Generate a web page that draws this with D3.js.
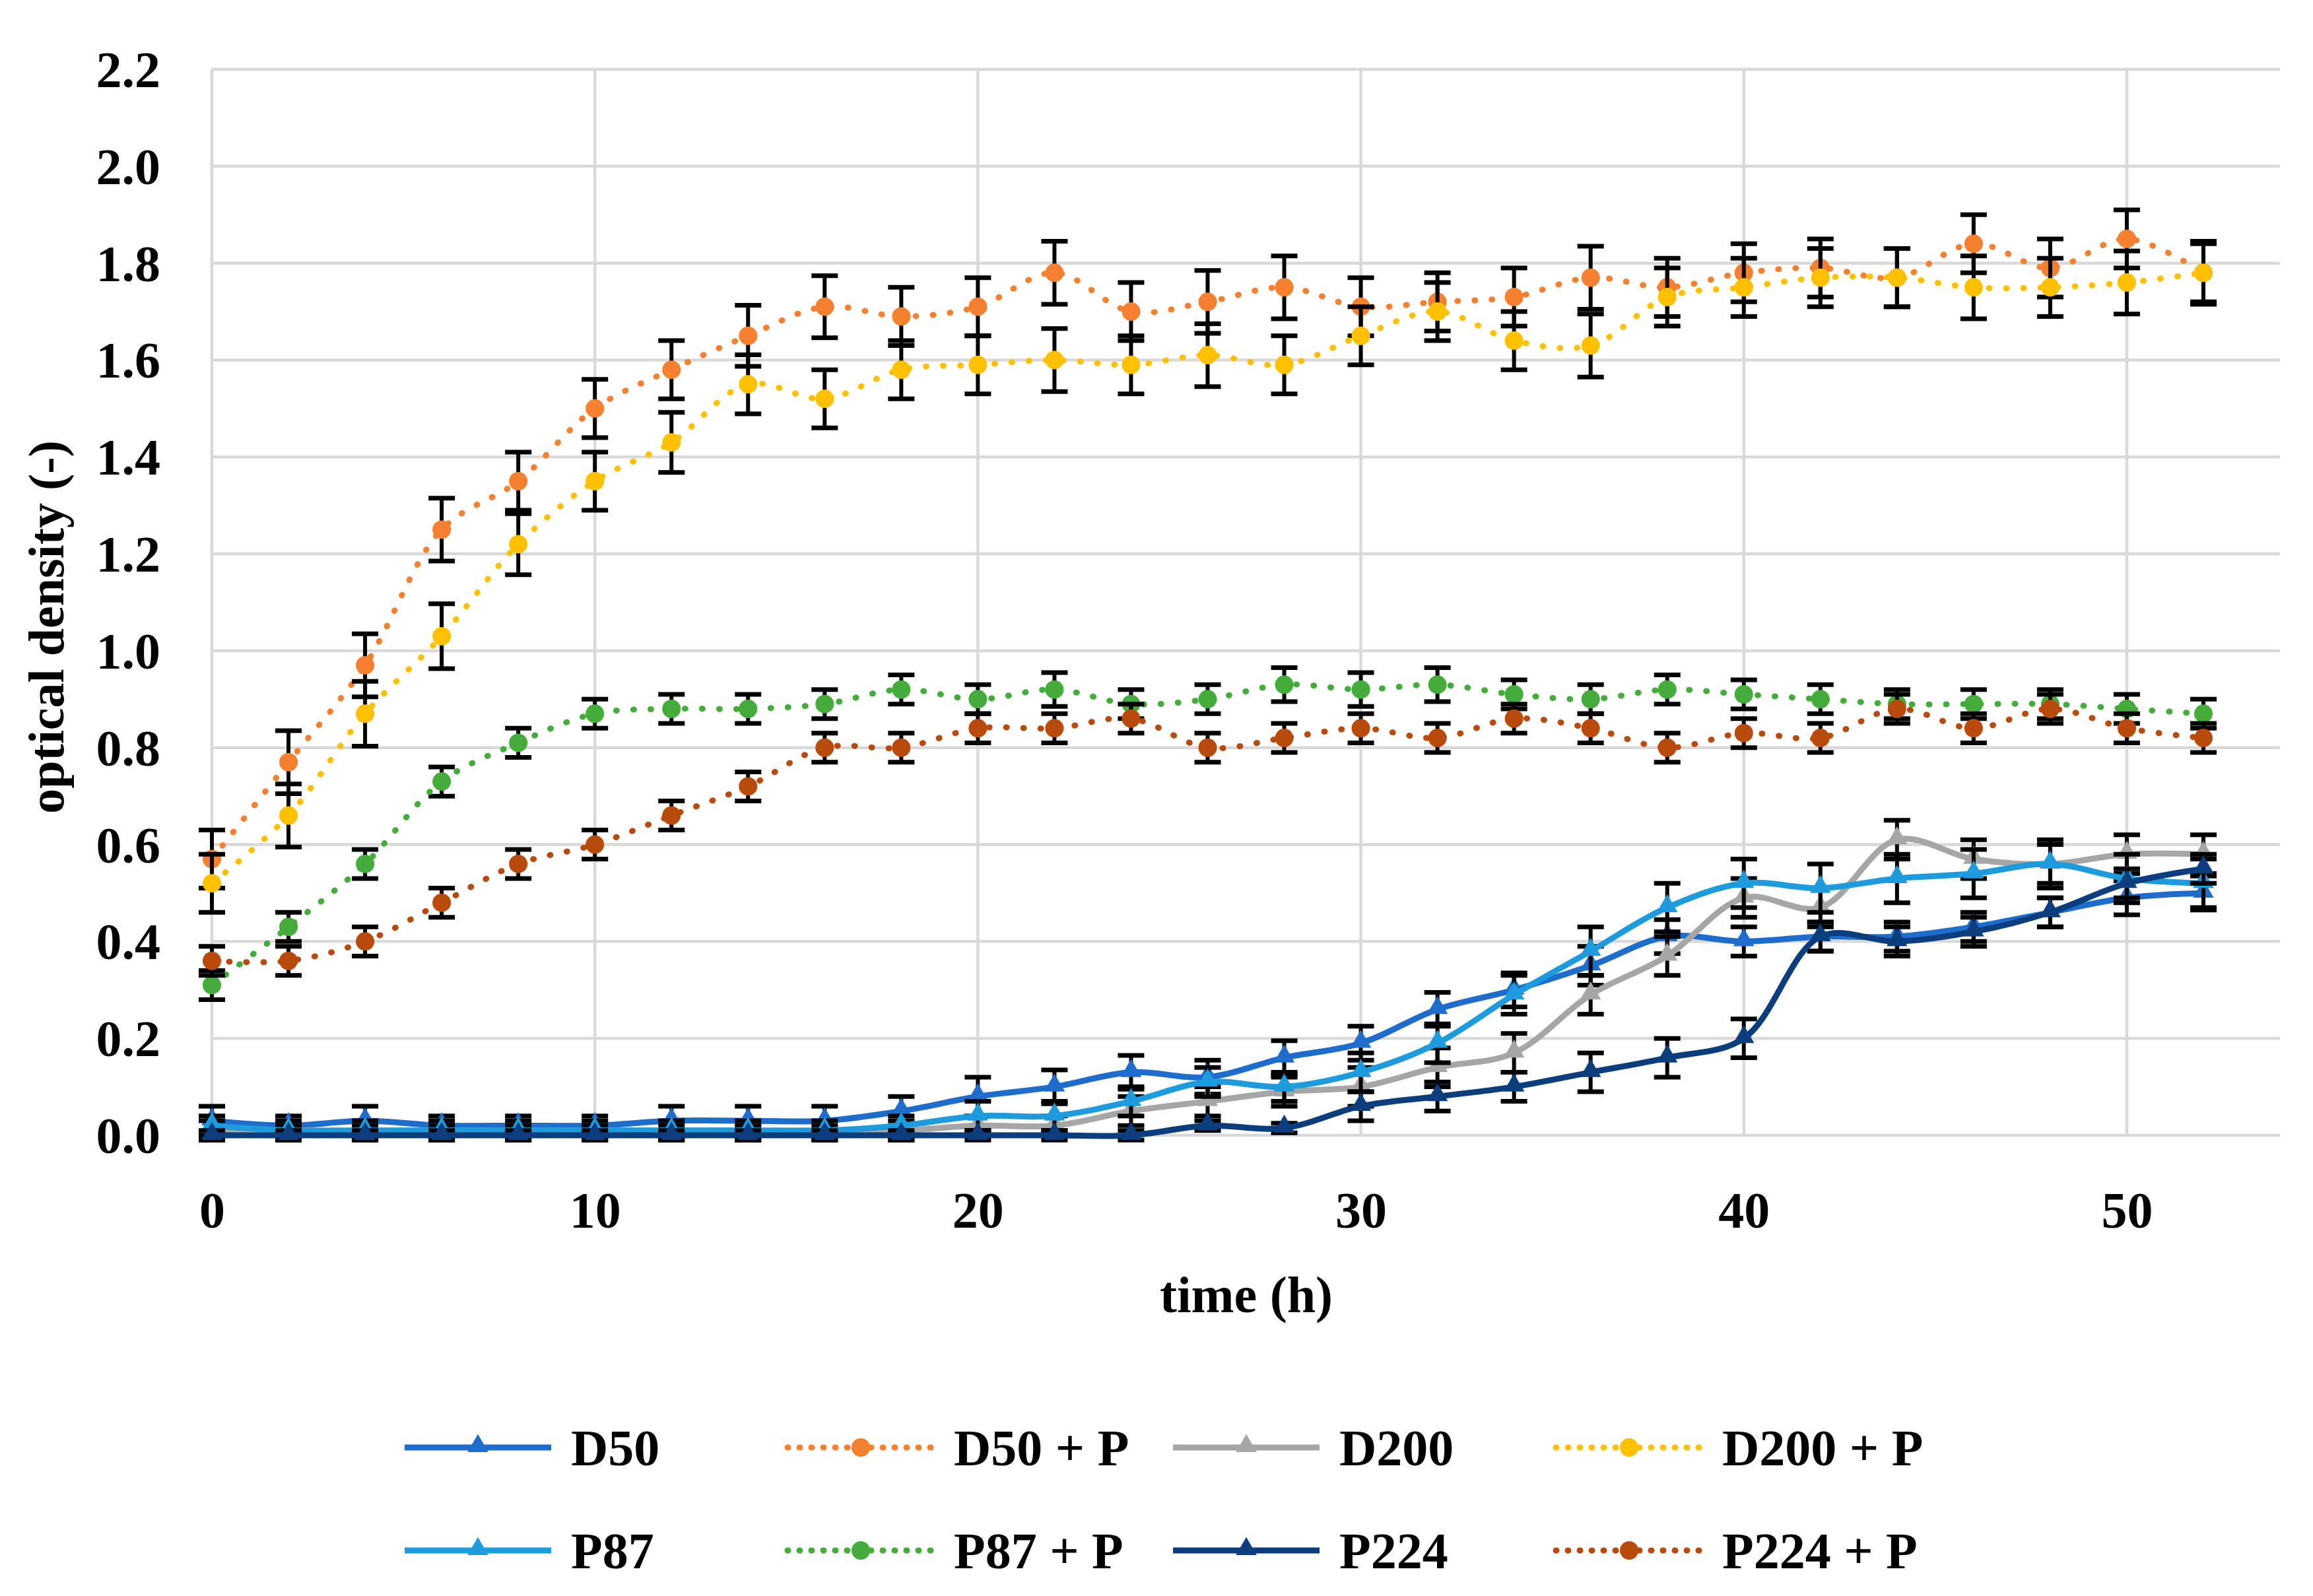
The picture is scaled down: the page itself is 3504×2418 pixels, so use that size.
<!DOCTYPE html>
<html>
<head>
<meta charset="utf-8">
<script src="https://cdn.jsdelivr.net/npm/d3@7"></script>
<style>
  html, body { margin: 0; padding: 0; background: #ffffff; }
  svg { display: block; }
  text { font-family: "Liberation Serif", "DejaVu Serif", serif; font-weight: bold; fill: #000; }
</style>
</head>
<body>
<svg id="chart" width="3504" height="2418"></svg>
<script>
// ---------- data ----------
const time = [0,2,4,6,8,10,12,14,16,18,20,22,24,26,28,30,32,34,36,38,40,42,44,46,48,50,52];

const seriesNames = ["D50", "D50 + P", "D200", "D200 + P", "P87", "P87 + P", "P224", "P224 + P"];

const D50      = [0.03,0.02,0.03,0.02,0.02,0.02,0.03,0.03,0.03,0.05,0.08,0.10,0.13,0.12,0.16,0.19,0.26,0.30,0.35,0.41,0.40,0.41,0.41,0.43,0.46,0.49,0.50];
const D50_err  = [0.03,0.02,0.03,0.02,0.02,0.02,0.03,0.03,0.03,0.03,0.04,0.035,0.035,0.035,0.035,0.035,0.035,0.035,0.04,0.035,0.03,0.03,0.03,0.03,0.03,0.035,0.035];

const D50P     = [0.57,0.77,0.97,1.25,1.35,1.50,1.58,1.65,1.71,1.69,1.71,1.78,1.70,1.72,1.75,1.71,1.72,1.73,1.77,1.75,1.78,1.79,1.77,1.84,1.79,1.85,1.78];
const D50P_err = [0.06,0.065,0.065,0.065,0.06,0.06,0.06,0.063,0.064,0.06,0.06,0.065,0.06,0.065,0.065,0.06,0.06,0.06,0.065,0.06,0.06,0.06,0.06,0.06,0.06,0.06,0.06];

const D200     = [0.01,0.01,0.01,0.01,0.01,0.01,0.01,0.01,0.01,0.01,0.02,0.02,0.05,0.07,0.09,0.10,0.14,0.17,0.29,0.37,0.49,0.47,0.61,0.57,0.56,0.58,0.58];
const D200_err = [0.02,0.02,0.02,0.02,0.02,0.02,0.02,0.02,0.02,0.02,0.02,0.02,0.03,0.03,0.03,0.04,0.04,0.04,0.04,0.04,0.04,0.04,0.04,0.04,0.04,0.04,0.04];

const D200P     = [0.52,0.66,0.87,1.03,1.22,1.35,1.43,1.55,1.52,1.58,1.59,1.60,1.59,1.61,1.59,1.65,1.70,1.64,1.63,1.73,1.75,1.77,1.77,1.75,1.75,1.76,1.78];
const D200P_err = [0.06,0.065,0.067,0.067,0.063,0.06,0.062,0.061,0.06,0.06,0.06,0.065,0.06,0.065,0.06,0.06,0.06,0.06,0.065,0.06,0.06,0.06,0.06,0.065,0.06,0.065,0.065];

const P87      = [0.02,0.01,0.01,0.01,0.01,0.01,0.01,0.01,0.01,0.02,0.04,0.04,0.07,0.11,0.10,0.13,0.19,0.29,0.38,0.47,0.52,0.51,0.53,0.54,0.56,0.53,0.52];
const P87_err  = [0.02,0.01,0.01,0.01,0.01,0.01,0.01,0.01,0.01,0.02,0.03,0.03,0.03,0.03,0.03,0.04,0.04,0.04,0.05,0.05,0.05,0.05,0.05,0.05,0.05,0.05,0.05];

const P87P     = [0.31,0.43,0.56,0.73,0.81,0.87,0.88,0.88,0.89,0.92,0.90,0.92,0.89,0.90,0.93,0.92,0.93,0.91,0.90,0.92,0.91,0.90,0.89,0.89,0.89,0.88,0.87];
const P87P_err = [0.03,0.03,0.03,0.03,0.03,0.03,0.03,0.03,0.03,0.03,0.03,0.035,0.03,0.03,0.035,0.035,0.035,0.03,0.03,0.03,0.03,0.03,0.03,0.03,0.03,0.03,0.03];

const P224     = [0,0,0,0,0,0,0,0,0,0,0,0,0,0.02,0.015,0.06,0.08,0.10,0.13,0.16,0.20,0.41,0.40,0.42,0.46,0.52,0.55];
const P224_err = [0.01,0.01,0.01,0.01,0.01,0.01,0.01,0.01,0.01,0.01,0.01,0.01,0.01,0.01,0.01,0.03,0.03,0.03,0.04,0.04,0.04,0.03,0.03,0.03,0.03,0.03,0.03];

const P224P     = [0.36,0.36,0.40,0.48,0.56,0.60,0.66,0.72,0.80,0.80,0.84,0.84,0.86,0.80,0.82,0.84,0.82,0.86,0.84,0.80,0.83,0.82,0.88,0.84,0.88,0.84,0.82];
const P224P_err = [0.03,0.03,0.03,0.03,0.03,0.03,0.03,0.03,0.03,0.03,0.03,0.03,0.03,0.03,0.03,0.03,0.03,0.03,0.03,0.03,0.03,0.03,0.03,0.03,0.03,0.03,0.03];

const xTicks = [0,10,20,30,40,50];
const yTicks = [0.0,0.2,0.4,0.6,0.8,1.0,1.2,1.4,1.6,1.8,2.0,2.2];

// ---------- styling (not data) ----------
const styles = {
  "D50":      {values: D50,   err: D50_err,   color: "#1E6CCB", dotted: false},
  "D50 + P":  {values: D50P,  err: D50P_err,  color: "#F5802F", dotted: true},
  "D200":     {values: D200,  err: D200_err,  color: "#A6A6A6", dotted: false},
  "D200 + P": {values: D200P, err: D200P_err, color: "#FFC000", dotted: true},
  "P87":      {values: P87,   err: P87_err,   color: "#1E9BDC", dotted: false},
  "P87 + P":  {values: P87P,  err: P87P_err,  color: "#43AC3A", dotted: true},
  "P224":     {values: P224,  err: P224_err,  color: "#0C3E7E", dotted: false},
  "P224 + P": {values: P224P, err: P224P_err, color: "#B84A0C", dotted: true}
};

const svg = d3.select("#chart");
svg.append("rect").attr("width", 3504).attr("height", 2418).attr("fill", "#fff");

const x = d3.scaleLinear().domain([0, 54]).range([321, 3454]);
const y = d3.scaleLinear().domain([0, 2.2]).range([1720, 105]);

// grid
const grid = svg.append("g");
grid.selectAll("line.h").data(yTicks).join("line")
  .attr("x1", x(0)).attr("x2", x(54))
  .attr("y1", d => y(d)).attr("y2", d => y(d))
  .attr("stroke", "#D9D9D9").attr("stroke-width", 4.5);
grid.selectAll("line.v").data(xTicks).join("line")
  .attr("x1", d => x(d)).attr("x2", d => x(d))
  .attr("y1", y(0)).attr("y2", y(2.2))
  .attr("stroke", "#D9D9D9").attr("stroke-width", 4.5);

// axes using d3 axis generators, styled as Excel (labels only)
const xAxis = svg.append("g").attr("transform", `translate(0,${y(0)})`)
  .call(d3.axisBottom(x).tickValues(xTicks).tickFormat(d3.format("d")).tickSize(0).tickPadding(0));
xAxis.select(".domain").remove();
xAxis.selectAll("text")
  .attr("y", 140).attr("dy", null)
  .style("font-size", "78px").style("font-family", "Liberation Serif, serif").style("font-weight", "bold").attr("fill", "#000");

const yAxis = svg.append("g").attr("transform", `translate(243,0)`)
  .call(d3.axisLeft(y).tickValues(yTicks).tickFormat(d3.format(".1f")).tickSize(0).tickPadding(0));
yAxis.select(".domain").remove();
yAxis.selectAll("text")
  .attr("x", 0).attr("dy", "0.34em")
  .style("font-size", "78px").style("font-family", "Liberation Serif, serif").style("font-weight", "bold").attr("fill", "#000");

// axis titles
svg.append("text")
  .attr("transform", "translate(96,950) rotate(-90)")
  .attr("text-anchor", "middle")
  .style("font-size", "76px")
  .text("optical density (-)");

svg.append("text")
  .attr("x", 1888).attr("y", 1988)
  .attr("text-anchor", "middle")
  .style("font-size", "78px")
  .text("time (h)");

// series
const lineGen = d3.line()
  .x(d => x(d.t)).y(d => y(d.v))
  .curve(d3.curveCatmullRom.alpha(0.5));

const tri = d3.symbol().type(d3.symbolTriangle).size(430);

seriesNames.forEach(name => {
  const s = styles[name];
  const pts = time.map((t, i) => ({t, v: s.values[i], e: s.err[i]}));
  const g = svg.append("g");

  // error bars
  const eb = g.append("g");
  eb.selectAll("line.stem").data(pts).join("line")
    .attr("x1", d => x(d.t)).attr("x2", d => x(d.t))
    .attr("y1", d => y(d.v - d.e)).attr("y2", d => y(d.v + d.e))
    .attr("stroke", "#000").attr("stroke-width", 6);
  eb.selectAll("line.capT").data(pts).join("line")
    .attr("x1", d => x(d.t) - 20).attr("x2", d => x(d.t) + 20)
    .attr("y1", d => y(d.v + d.e)).attr("y2", d => y(d.v + d.e))
    .attr("stroke", "#000").attr("stroke-width", 7);
  eb.append("g").selectAll("line").data(pts).join("line")
    .attr("x1", d => x(d.t) - 20).attr("x2", d => x(d.t) + 20)
    .attr("y1", d => y(d.v - d.e)).attr("y2", d => y(d.v - d.e))
    .attr("stroke", "#000").attr("stroke-width", 7);

  // line
  const path = g.append("path").datum(pts)
    .attr("d", lineGen)
    .attr("fill", "none")
    .attr("stroke", s.color)
    .attr("stroke-linejoin", "round");
  if (s.dotted) {
    path.attr("stroke-width", 9).attr("stroke-linecap", "round").attr("stroke-dasharray", "1 25");
  } else {
    path.attr("stroke-width", 9).attr("stroke-linecap", "round");
  }

  // markers
  if (s.dotted) {
    g.selectAll("circle").data(pts).join("circle")
      .attr("cx", d => x(d.t)).attr("cy", d => y(d.v)).attr("r", 14)
      .attr("fill", s.color);
  } else {
    g.selectAll("path.m").data(pts).join("path")
      .attr("transform", d => `translate(${x(d.t)},${y(d.v) - 2})`)
      .attr("d", tri).attr("fill", s.color);
  }
});

// legend
const legendCols = [613, 1193, 1777, 2357];
const legendRows = [2193, 2349];
const legend = svg.append("g");
seriesNames.forEach((name, i) => {
  const s = styles[name];
  const lx = legendCols[i % 4];
  const ly = legendRows[Math.floor(i / 4)];
  const g = legend.append("g").attr("transform", `translate(${lx},${ly})`);
  const ln = g.append("line").attr("x1", 0).attr("x2", 222).attr("y1", 0).attr("y2", 0)
    .attr("stroke", s.color).attr("stroke-width", 9);
  if (s.dotted) {
    ln.attr("stroke-linecap", "round").attr("stroke-dasharray", "1 17");
    g.append("circle").attr("cx", 111).attr("cy", 0).attr("r", 14).attr("fill", s.color);
  } else {
    g.append("path").attr("transform", "translate(111,-2)").attr("d", tri).attr("fill", s.color);
  }
  g.append("text").attr("x", 252).attr("y", 0).attr("dy", "0.34em")
    .style("font-size", "78px").text(name);
});
</script>
</body>
</html>
